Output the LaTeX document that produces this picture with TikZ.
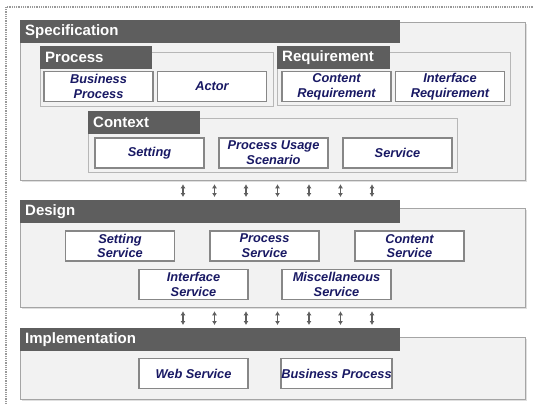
\documentclass[tikz,border=0pt]{standalone}
\usepackage{fontspec}
\usepackage{xcolor}
\usepackage{tikz}
\usetikzlibrary{arrows.meta,shadows}
\setsansfont{Liberation Sans}
\definecolor{headgray}{RGB}{94,94,94}
\definecolor{panelfill}{RGB}{242,242,242}
\definecolor{paneldraw}{RGB}{165,165,165}
\definecolor{itemdraw}{RGB}{135,135,135}
\definecolor{itemtext}{RGB}{25,25,100}
\definecolor{arrowgray}{RGB}{95,95,95}
\tikzset{
    panel/.style = {rectangle, anchor=north west, inner sep=0pt, draw=paneldraw, line width=1.3pt, fill=panelfill, drop shadow={shadow xshift=1pt, shadow yshift=-1pt, opacity=0.25}},
    group/.style = {rectangle, anchor=north west, inner sep=0pt, draw=paneldraw!80, line width=0.8pt, fill=panelfill},
    head/.style = {rectangle, anchor=north west, inner xsep=5pt, inner ysep=0pt, fill=headgray, text=white, align=left, minimum height=23pt, font=\sffamily\bfseries\fontsize{15}{18}\selectfont},
    item/.style = {rectangle, minimum width=109pt, minimum height=30pt, inner xsep=0pt, inner ysep=1pt, text centered, align=center, draw=itemdraw, line width=1.8pt, fill=white, text=itemtext, font=\sffamily\bfseries\itshape\fontsize{12.8}{14.8}\selectfont},
    updown/.style = {{Latex[length=4pt,width=5pt]}-{Latex[length=4pt,width=5pt]}, line width=1.6pt, draw=arrowgray, shorten <=3pt, shorten >=3pt}
}
\begin{document}
\begin{tikzpicture}[x=1pt, y=-1pt]
\useasboundingbox (0,0) rectangle (533,404);
\draw [gray!80, line width=1.2pt, dash pattern=on 1pt off 0.8pt] (6,404) -- (6,7) -- (533,7);

\node (spec) [panel, minimum width=505pt, minimum height=158pt] at (20,22) {};
\node (shead) [head, text width=370pt] at (20,20) {Specification};
\node (pgrp) [group, minimum width=233pt, minimum height=54pt] at (40,52) {};
\node (phead) [head, text width=102pt] at (40,46) {Process};
\node (rgrp) [group, minimum width=233pt, minimum height=53pt] at (277,52) {};
\node (rhead) [head, text width=103pt] at (277,46) {Requirement};
\node (cgrp) [group, minimum width=369pt, minimum height=54pt] at (88,118) {};
\node (chead) [head, text width=102pt] at (88,111) {Context};

\node (busproc) [item] at (98.5,86.5) {Business\\Process};
\node (actor) [item] at (212,86.5) {Actor};
\node (contreq) [item] at (336.5,86.5) {Content\\Requirement};
\node (intreq) [item] at (450,86.5) {Interface\\Requirement};
\node (setting) [item] at (149.5,153) {Setting};
\node (usage) [item] at (273.5,153) {Process Usage\\Scenario};
\node (service) [item] at (397.5,153) {Service};

\node (design) [panel, minimum width=505pt, minimum height=99pt] at (20,208) {};
\node (dhead) [head, text width=370pt] at (20,200) {Design};
\node (setserv) [item] at (120,246) {Setting\\Service};
\node (procserv) [item] at (264.5,246) {Process\\Service};
\node (contserv) [item] at (409.5,246) {Content\\Service};
\node (intserv) [item] at (193.5,284.5) {Interface\\Service};
\node (miscserv) [item] at (336.5,284.5) {Miscellaneous\\Service};

\node (impl) [panel, minimum width=505pt, minimum height=62pt] at (20,337) {};
\node (ihead) [head, text width=370pt] at (20,328) {Implementation};
\node (websrv) [item] at (193.5,373.5) {Web Service};
\node (bpimpl) [item] at (336.5,373.5) {Business Process};

\foreach \x [count=\i] in {183,214.5,246,277.5,309,340.5,372} {
    \coordinate (ax\i) at (\x,0);
    \draw [updown] (spec.south -| ax\i) -- (dhead.north -| ax\i);
    \draw [updown] (design.south -| ax\i) -- (ihead.north -| ax\i);
}
\end{tikzpicture}
\end{document}
